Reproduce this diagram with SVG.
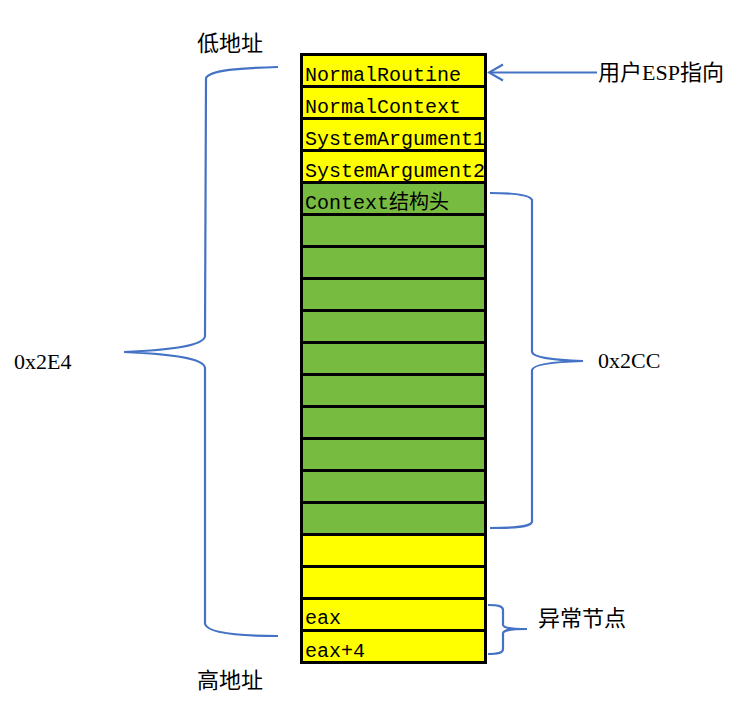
<svg xmlns="http://www.w3.org/2000/svg" width="738" height="704" viewBox="0 0 738 704">
<style>
.y{fill:#FFFF00;stroke:#000;stroke-width:3}
.g{fill:#77BB41;stroke:#000;stroke-width:3}
.cell{font-family:"Liberation Mono","Noto Sans CJK SC",monospace;font-size:20px;fill:#000}
.lbl{font-family:"Liberation Serif","Noto Sans CJK SC",serif;font-size:22px;fill:#000}
.br{fill:none;stroke:#4472C4;stroke-width:2.2}
</style>
<defs>
<marker id="open" viewBox="0 0 20 20" refX="18" refY="10" markerWidth="20" markerHeight="20" markerUnits="userSpaceOnUse" orient="auto">
<path d="M4,2 L18,10 L4,18" fill="none" stroke="#4472C4" stroke-width="2.2"/>
</marker>
</defs>
<rect width="738" height="704" fill="#fff"/>
<g id="row1"><rect class="y" x="301.5" y="54.5" width="184" height="32"/><text class="cell" x="305" y="81">NormalRoutine</text></g>
<g id="row2"><rect class="y" x="301.5" y="86.5" width="184" height="32"/><text class="cell" x="305" y="113">NormalContext</text></g>
<g id="row3"><rect class="y" x="301.5" y="118.5" width="184" height="32"/><text class="cell" x="305" y="145">SystemArgument1</text></g>
<g id="row4"><rect class="y" x="301.5" y="150.5" width="184" height="32"/><text class="cell" x="305" y="177">SystemArgument2</text></g>
<g id="row5"><rect class="g" x="301.5" y="182.5" width="184" height="32"/><text class="cell" x="305" y="209">Context结构头</text></g>
<g id="row6"><rect class="g" x="301.5" y="214.5" width="184" height="32"/></g>
<g id="row7"><rect class="g" x="301.5" y="246.5" width="184" height="32"/></g>
<g id="row8"><rect class="g" x="301.5" y="278.5" width="184" height="32"/></g>
<g id="row9"><rect class="g" x="301.5" y="310.5" width="184" height="32"/></g>
<g id="row10"><rect class="g" x="301.5" y="342.5" width="184" height="32"/></g>
<g id="row11"><rect class="g" x="301.5" y="374.5" width="184" height="32"/></g>
<g id="row12"><rect class="g" x="301.5" y="406.5" width="184" height="32"/></g>
<g id="row13"><rect class="g" x="301.5" y="438.5" width="184" height="32"/></g>
<g id="row14"><rect class="g" x="301.5" y="470.5" width="184" height="32"/></g>
<g id="row15"><rect class="g" x="301.5" y="502.5" width="184" height="32"/></g>
<g id="row16"><rect class="y" x="301.5" y="534.5" width="184" height="32"/></g>
<g id="row17"><rect class="y" x="301.5" y="566.5" width="184" height="32"/></g>
<g id="row18"><rect class="y" x="301.5" y="598.5" width="184" height="32"/><text class="cell" x="305" y="624">eax</text></g>
<g id="row19"><rect class="y" x="301.5" y="630.5" width="184" height="32"/><text class="cell" x="305" y="657">eax+4</text></g>
<g id="low-addr"><text class="lbl" x="197" y="51">低地址</text></g>
<g id="high-addr"><text class="lbl" x="197" y="688">高地址</text></g>
<g id="size-total"><text class="lbl" x="14" y="369">0x2E4</text></g>
<g id="size-context"><text class="lbl" x="598" y="368">0x2CC</text></g>
<g id="esp-label"><text class="lbl" x="598" y="80">用户ESP指向</text></g>
<g id="exc-node"><text class="lbl" x="538" y="626">异常节点</text></g>
<g id="connectors">
<path class="br" d="M278,67 C240,68 210,70 206,78 L205,336 C204,346 170,350 124,352 C170,354 204,358 205,368 L205,624 C208,633 240,636 278,636"/>
<path class="br" d="M490,193 C515,193 530,195 532,200 L532,352 C533,357 550,360 583,361 C550,362 533,365 532,370 L532,522 C530,527 515,528 490,528"/>
<path class="br" d="M488,605 C498,605 503,606 503,610 L503,625 C504,628 510,629 527,629 C510,629 504,630 503,633 L503,649 C503,653 498,654 488,654"/>
<line x1="597" y1="72.5" x2="489" y2="72.5" stroke="#4472C4" stroke-width="2.2" marker-end="url(#open)"/>
</g>
</svg>
